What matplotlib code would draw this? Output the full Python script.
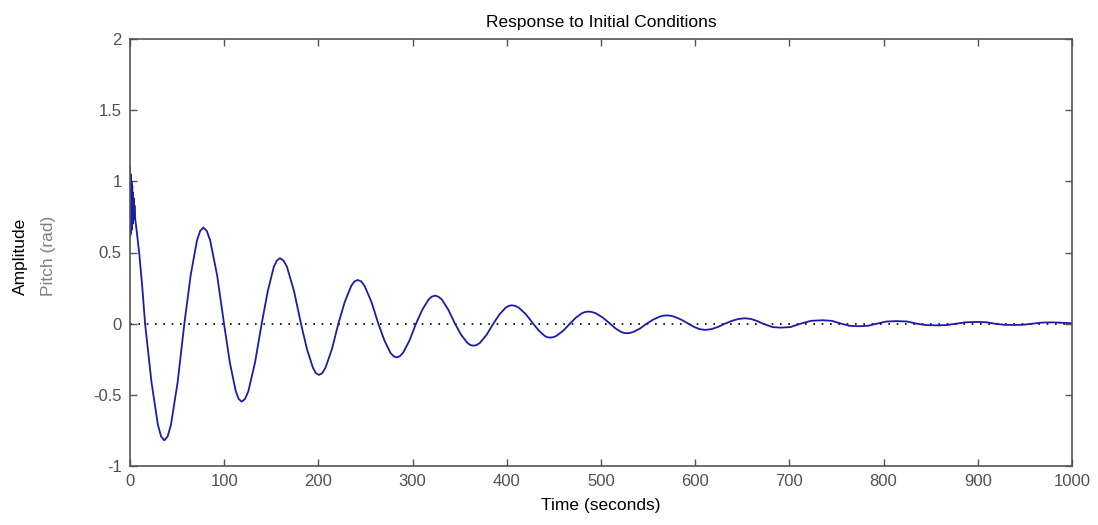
import matplotlib.pyplot as plt

# pitch response (time in s, pitch in rad)
t_start = [0.0, 0.4, 0.8, 1.2, 1.6, 2.0, 2.4, 2.8, 3.2, 3.6, 4.0, 4.4, 4.8,
           5.3, 8.0, 10.0, 13.0]
y_start = [1.10, 0.62, 1.05, 0.64, 1.00, 0.66, 0.97, 0.70, 0.92, 0.73, 0.88,
           0.75, 0.83, 0.75, 0.60, 0.48, 0.26]

t_main = [16.0, 22.8, 29.6, 33.0, 36.4, 40.0, 43.5, 50.6,
          57.7, 64.4, 71.1, 74.5, 77.8, 81.5, 85.1, 92.5,
          99.8, 106.0, 112.3, 115.4, 118.5, 122.1, 125.6, 132.7,
          139.8, 146.3, 152.7, 156.0, 159.2, 162.9, 166.6, 174.1,
          181.5, 187.9, 194.2, 197.4, 200.6, 204.0, 207.5, 214.3,
          221.2, 228.0, 234.9, 238.3, 241.7, 245.4, 249.0, 256.3,
          263.6, 270.1, 276.5, 279.8, 283.0, 286.4, 289.9, 296.7,
          303.6, 310.3, 317.1, 320.4, 323.8, 327.3, 330.9, 337.9,
          345.0, 351.5, 358.0, 361.3, 364.5, 368.0, 371.6, 378.6,
          385.7, 392.2, 398.7, 402.0, 405.2, 409.0, 412.8, 420.4,
          428.0, 434.0, 440.0, 442.9, 445.9, 449.4, 452.9, 460.0,
          467.0, 473.5, 480.0, 483.3, 486.5, 490.3, 494.2, 501.9,
          509.6, 515.5, 521.4, 524.3, 527.3, 530.8, 534.4, 541.4,
          548.5, 555.6, 562.6, 566.2, 569.7, 573.5, 577.4, 585.0,
          592.7, 598.6, 604.5, 610.4, 617.5, 624.5,
          631.6, 638.7, 645.8, 652.9, 659.3, 665.6,
          672.0, 682.0, 691.0, 701.0,
          712.0, 723.0, 735.0, 745.0,
          755.0, 764.0, 773.0, 783.0,
          793.0, 803.0, 814.0, 825.0,
          835.0, 845.0, 856.0, 867.0,
          877.0, 888.0, 899.0, 909.0,
          918.0, 928.0, 937.0, 948.0,
          958.0, 969.0, 980.0, 990.0, 1000.0]
y_main = [0.0, -0.41, -0.71, -0.792, -0.82, -0.792, -0.71, -0.41,
          0.0, 0.34, 0.585, 0.652, 0.675, 0.652, 0.585, 0.34,
          0.0, -0.274, -0.475, -0.529, -0.548, -0.529, -0.475, -0.274,
          0.0, 0.23, 0.40, 0.444, 0.46, 0.444, 0.40, 0.23,
          0.0, -0.18, -0.31, -0.348, -0.36, -0.348, -0.31, -0.18,
          0.0, 0.153, 0.266, 0.297, 0.307, 0.297, 0.266, 0.153,
          0.0, -0.118, -0.205, -0.229, -0.237, -0.229, -0.205, -0.118,
          0.0, 0.098, 0.171, 0.190, 0.197, 0.190, 0.171, 0.098,
          0.0, -0.078, -0.134, -0.150, -0.155, -0.150, -0.134, -0.078,
          0.0, 0.065, 0.112, 0.125, 0.129, 0.125, 0.112, 0.065,
          0.0, -0.049, -0.085, -0.095, -0.098, -0.095, -0.085, -0.049,
          0.0, 0.043, 0.074, 0.082, 0.085, 0.082, 0.074, 0.043,
          0.0, -0.034, -0.058, -0.065, -0.067, -0.065, -0.058, -0.034,
          0.0, 0.029, 0.050, 0.056, 0.058, 0.056, 0.050, 0.029,
          0.0, -0.022, -0.038, -0.044, -0.038, -0.022,
          0.0, 0.019, 0.033, 0.038, 0.033, 0.019,
          0.0, -0.024, -0.028, -0.024,
          0.0, 0.020, 0.024, 0.020,
          0.0, -0.015, -0.018, -0.015,
          0.0, 0.015, 0.018, 0.015,
          0.0, -0.010, -0.012, -0.010,
          0.0, 0.010, 0.012, 0.010,
          0.0, -0.008, -0.009, -0.008,
          0.0, 0.008, 0.009, 0.006, 0.003]

t = t_start + t_main
y = y_start + y_main

zero_t = [0, 1000]
zero_y = [0, 0]

x_ticks = [0, 100, 200, 300, 400, 500, 600, 700, 800, 900, 1000]
y_ticks = [-1, -0.5, 0, 0.5, 1, 1.5, 2]
y_tick_labels = ['-1', '-0.5', '0', '0.5', '1', '1.5', '2']

plt.rcParams['font.family'] = ['Liberation Sans', 'DejaVu Sans']
plt.rcParams['font.size'] = 12

fig = plt.figure(figsize=(10.98, 5.25), dpi=100)
ax = fig.add_axes([130 / 1098, 1 - 466 / 525, 942 / 1098, 427 / 525])

ax.plot(zero_t, zero_y, color='black', linestyle=(0, (1, 4)), lw=1.2)
ax.plot(t, y, color='#1c1ca8', lw=1.3)

ax.set_xlim(0, 1000)
ax.set_ylim(-1, 2)
ax.set_xticks(x_ticks)
ax.set_xticklabels([str(v) for v in x_ticks])
ax.set_yticks(y_ticks)
ax.set_yticklabels(y_tick_labels)
ax.tick_params(direction='in', length=5, width=1, color='#555555',
               labelcolor='#505050', top=True, right=True, pad=6)
for sp in ax.spines.values():
    sp.set_color('#555555')
    sp.set_linewidth(1.2)

ax.set_title('Response to Initial Conditions', fontsize=12.5, pad=9)
ax.set_xlabel('Time (seconds)', fontsize=12.5, labelpad=6)
fig.text(20 / 1098, 1 - 256 / 525, 'Amplitude', rotation=90, ha='center',
         va='center', fontsize=12.5, color='black')
fig.text(48 / 1098, 1 - 256 / 525, 'Pitch (rad)', rotation=90, ha='center',
         va='center', fontsize=12.5, color='#808080')

fig.savefig('out.png', dpi=100)
plt.close()
